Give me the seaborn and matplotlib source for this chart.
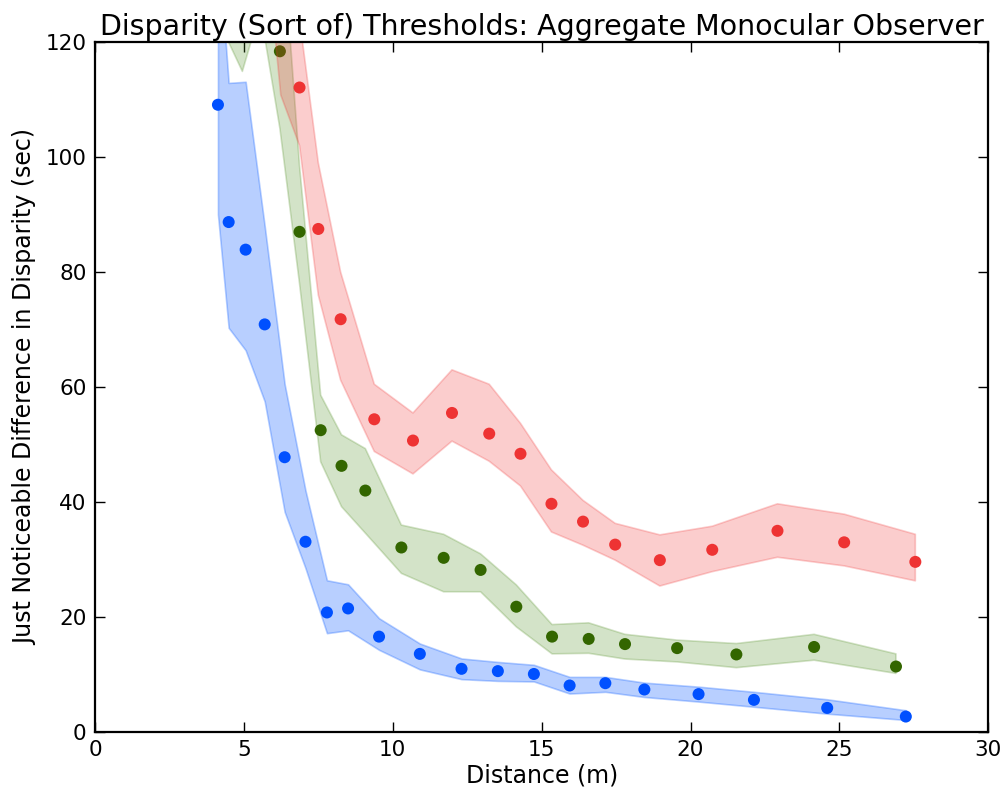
import numpy as np
import matplotlib
matplotlib.use("Agg")
import matplotlib.pyplot as plt
import pandas as pd
import seaborn as sns

# blue series
blue_x = [4.13, 4.49, 5.06, 5.70, 6.37, 7.07, 7.79, 8.50, 9.54, 10.91, 12.31, 13.53, 14.74, 15.94, 17.14, 18.45, 20.27, 22.13, 24.59, 27.23]
blue_y = [109.1, 88.7, 83.9, 70.9, 47.8, 33.1, 20.8, 21.5, 16.6, 13.6, 11.0, 10.6, 10.1, 8.1, 8.5, 7.4, 6.6, 5.6, 4.2, 2.7]
blue_hi = [138, 112.9, 113.1, 88, 60.5, 42, 26.4, 25.7, 19.8, 15.4, 12.8, 12.2, 11.7, 9.6, 9.6, 8.6, 7.9, 7.0, 5.7, 3.8]
blue_lo = [90, 70.3, 66.4, 57.5, 38.3, 28.5, 17.2, 17.7, 14.3, 10.9, 9.2, 8.9, 8.8, 6.7, 7.0, 6.1, 5.3, 4.4, 3.2, 2.1]

# green series
green_x = [4.35, 4.95, 5.55, 6.21, 6.87, 7.58, 8.28, 9.08, 10.29, 11.71, 12.95, 14.15, 15.35, 16.58, 17.80, 19.55, 21.54, 24.15, 26.90]
green_y = [150, 140, 135, 118.4, 87.0, 52.5, 46.3, 42.0, 32.1, 30.3, 28.2, 21.8, 16.6, 16.2, 15.3, 14.6, 13.5, 14.8, 11.4]
green_hi = [175, 165, 160, 145, 98.5, 58.6, 51.7, 49.3, 36.0, 34.4, 31.0, 25.6, 18.7, 19.0, 17.0, 16.0, 15.4, 17.0, 13.6]
green_lo = [121.5, 114.9, 125.5, 105, 78, 47, 39.2, 34.6, 27.6, 24.4, 24.4, 18.3, 13.6, 13.7, 12.7, 12.2, 11.2, 12.5, 10.2]

# red series
red_x = [5.60, 6.24, 6.87, 7.50, 8.25, 9.38, 10.68, 11.99, 13.24, 14.29, 15.33, 16.39, 17.47, 18.97, 20.73, 22.92, 25.16, 27.55]
red_y = [160, 135, 112.1, 87.5, 71.8, 54.4, 50.7, 55.5, 51.9, 48.4, 39.7, 36.6, 32.6, 29.9, 31.7, 35.0, 33.0, 29.6]
red_hi = [180, 150, 124, 99, 80, 60.5, 55.5, 63.0, 60.5, 53.7, 45.6, 40.3, 36.3, 34.3, 35.8, 39.7, 37.9, 34.4]
red_lo = [145, 110.8, 102, 76, 61.2, 48.8, 44.9, 50.6, 47.1, 42.8, 34.8, 32.5, 29.9, 25.4, 27.9, 30.4, 28.9, 26.3]

series = [
    (blue_x, blue_y, blue_lo, blue_hi, '#0050ff', '#0055ff', 0.28),
    (green_x, green_y, green_lo, green_hi, '#336600', '#4a8a1a', 0.24),
    (red_x, red_y, red_lo, red_hi, '#ee3333', '#f03030', 0.24),
]

sns.set_style("ticks")
plt.rcParams['font.family'] = ['DejaVu Sans']
plt.rcParams['text.color'] = 'black'
plt.rcParams['axes.labelcolor'] = 'black'

fig = plt.figure(figsize=(10.06, 7.94), dpi=100)
ax = fig.add_axes([0.0944, 0.078, 0.888, 0.869])

for xs, ys, lo, hi, pc, fc, a in series:
    ax.fill_between(xs, lo, hi, color=fc, alpha=a, linewidth=1.2)
    df = pd.DataFrame({'x': xs, 'y': ys})
    sns.scatterplot(data=df, x='x', y='y', ax=ax, color=pc, s=75, edgecolor='none', linewidth=0)

ax.set_xlim(0, 30)
ax.set_ylim(0, 120)
ax.set_xticks(np.arange(0, 31, 5))
ax.set_yticks(np.arange(0, 121, 20))
ax.tick_params(direction='in', top=True, right=True, length=7, width=1, labelsize=15.5, pad=6, colors='black')
for sp in ax.spines.values():
    sp.set_linewidth(1.6)
    sp.set_color('black')
ax.set_xlabel('Distance (m)', fontsize=17, labelpad=2, color='black')
ax.set_ylabel('Just Noticeable Difference in Disparity (sec)', fontsize=17, labelpad=6, color='black')
ax.set_title('Disparity (Sort of) Thresholds: Aggregate Monocular Observer', fontsize=20.5, pad=5, color='black')

fig.savefig('out.png', dpi=100)
